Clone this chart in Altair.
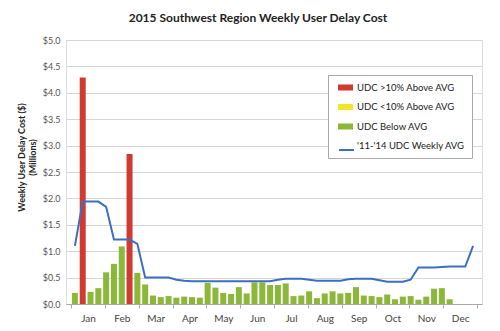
import altair as alt
import pandas as pd

months = ["Jan", "Feb", "Mar", "Apr", "May", "Jun", "Jul", "Aug", "Sep", "Oct", "Nov", "Dec"]

# weekly user delay cost 2015 ($ millions), weeks 1..49
udc = [0.21, 4.29, 0.23, 0.30, 0.60, 0.76, 1.09, 2.84, 0.59, 0.37,
       0.16, 0.13, 0.15, 0.12, 0.14, 0.13, 0.12, 0.40, 0.31, 0.21,
       0.19, 0.32, 0.20, 0.41, 0.41, 0.36, 0.36, 0.39, 0.15, 0.16,
       0.24, 0.11, 0.20, 0.24, 0.20, 0.21, 0.32, 0.16, 0.15, 0.13,
       0.18, 0.09, 0.14, 0.15, 0.08, 0.14, 0.29, 0.30, 0.09]

# bar category per week
udc_cat = ["below", "high", "below", "below", "below", "below", "below", "high"] + ["below"] * 41

# '11-'14 weekly average, weeks 1..52
avg = [1.10, 1.94, 1.94, 1.94, 1.84, 1.22, 1.22, 1.22, 1.14, 0.50,
       0.50, 0.50, 0.50, 0.46, 0.44, 0.43, 0.43, 0.43, 0.43, 0.43,
       0.43, 0.43, 0.43, 0.43, 0.43, 0.43, 0.46, 0.48, 0.48, 0.48,
       0.46, 0.44, 0.44, 0.44, 0.44, 0.47, 0.48, 0.48, 0.48, 0.45,
       0.42, 0.42, 0.42, 0.46, 0.69, 0.69, 0.69, 0.70, 0.71, 0.71,
       0.71, 1.10]

series_names = ["UDC >10% Above AVG", "UDC <10% Above AVG", "UDC Below AVG", "'11-'14 UDC Weekly AVG"]
series_colors = ["#cf3a32", "#f5e52a", "#8cb83a", "#3b6fc0"]
cat_to_name = {"high": series_names[0], "mid": series_names[1], "below": series_names[2]}

bars_df = pd.DataFrame({
    "week": [i + 0.5 for i in range(len(udc))],
    "value": udc,
    "series": [cat_to_name[c] for c in udc_cat],
})
line_df = pd.DataFrame({
    "week": [i + 0.5 for i in range(len(avg))],
    "value": avg,
    "series": series_names[3],
})

month_ticks = [52 / 12 * k for k in range(13)]
label_arr = "[" + ",".join("'" + m + "'" for m in months + [""]) + "]"

LEG_X, LEG_Y, LEG_PAD, ROW_H, ROW_PAD, SYM_OFF = 262, 35, 7, 11, 9.5, 5

fill = alt.Fill(
    "series:N",
    scale=alt.Scale(domain=series_names, range=series_colors[:3] + ["rgba(0,0,0,0)"]),
    legend=alt.Legend(
        title=None, orient="none", legendX=LEG_X, legendY=LEG_Y,
        fillColor="white", strokeColor="#a8a8a8", padding=LEG_PAD,
        labelFont="Lato", labelFontSize=9.5, labelColor="#222", labelOffset=6,
        symbolType="M-1.36,-0.55H1.36V0.55H-1.36Z", symbolSize=ROW_H * ROW_H, symbolStrokeWidth=0,
        symbolOffset=SYM_OFF, rowPadding=ROW_PAD, labelLimit=300,
    ),
)
stroke = alt.Stroke(
    "series:N",
    scale=alt.Scale(domain=series_names[3:], range=series_colors[3:]),
    legend=alt.Legend(
        title=None, orient="none",
        legendX=LEG_X + LEG_PAD + SYM_OFF - 2, legendY=LEG_Y + LEG_PAD + 3 * (ROW_H + ROW_PAD) - 2,
        padding=0, labelExpr="''", labelFontSize=9.5,
        symbolType="stroke", symbolSize=225, symbolStrokeWidth=2,
    ),
)

x = alt.X(
    "week:Q",
    scale=alt.Scale(domain=[0, 52], nice=False, zero=False),
    axis=alt.Axis(
        title=None, values=month_ticks, grid=False,
        labelExpr=label_arr + "[round(datum.value*12/52)]",
        labelOffset=17, labelFlush=False, labelOverlap=False,
        tickSize=4, tickColor="#aaa", domainColor="#aaa",
        labelFont="Lato", labelFontSize=10, labelColor="#444", labelPadding=5,
    ),
)
y = alt.Y(
    "value:Q",
    scale=alt.Scale(domain=[0, 5], nice=False),
    axis=alt.Axis(
        title=["Weekly User Delay Cost ($)", "(Millions)"],
        titleFont="Lato", titleFontSize=9, titleFontWeight="bold", titleColor="#222",
        titleX=-49, titleY=117, titleBaseline="top", titleAngle=270,
        values=[k * 0.5 for k in range(11)], format="$.1f",
        grid=True, gridColor="#d6d6d6", domain=False, ticks=False,
        labelFont="Lato", labelFontSize=9, labelColor="#555", labelPadding=6,
    ),
)

bars = alt.Chart(bars_df).mark_bar(size=6).encode(x=x, y=y, fill=fill)
line = alt.Chart(line_df).mark_line(strokeWidth=2).encode(x=x, y=y, stroke=stroke)

chart = alt.layer(bars, line).resolve_scale(fill="independent", stroke="independent").properties(
    width=416, height=264,
    padding={"left": 66, "top": 40, "right": 18, "bottom": 27},
    autosize=alt.AutoSizeParams(type="none"),
    title=alt.TitleParams(
        "2015 Southwest Region Weekly User Delay Cost",
        font="Lato", fontSize=12, fontWeight="bold", color="#222",
        anchor="middle", dx=-16, offset=11,
    ),
).configure_view(stroke=None).configure(background="white")

chart.save("out.html", embed_options={"renderer": "svg", "actions": False})
